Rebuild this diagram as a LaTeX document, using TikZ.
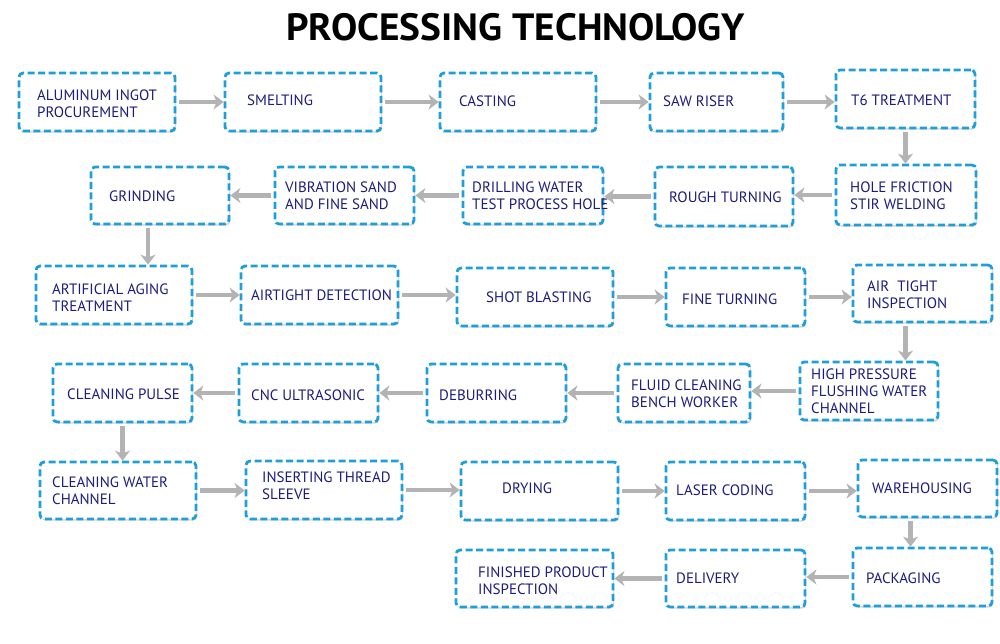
\documentclass[tikz,border=0pt]{standalone}
\usepackage{fontspec}
\setmainfont{PT Sans}
\usetikzlibrary{arrows.meta,shadows}
\definecolor{boxblue}{HTML}{1E9FDB}
\definecolor{txtnavy}{HTML}{1C1C7C}
\definecolor{arrgray}{HTML}{B3B3B3}
\tikzset{
  procbox/.style={draw=boxblue, line width=2.8pt, dash pattern=on 7pt off 3.5pt,
    rounded corners=4pt, fill=white, inner sep=0pt,
    drop shadow={shadow xshift=1.2pt, shadow yshift=-1.5pt, opacity=0.25, fill=black!60}},
  lbl/.style={anchor=west, inner sep=0pt, align=left, text=txtnavy,
    font=\fontsize{15}{17}\selectfont},
  arr/.style={draw=arrgray, line width=4.5pt,
    -{Stealth[length=10pt, width=15pt, inset=3pt]}},
  ttl/.style={inner sep=0pt, xscale=1.034, transform shape,
    font=\fontsize{38}{40}\selectfont\bfseries}
}
\newcommand{\pbox}[5]{%
  \node[procbox, minimum width={(#4-#2)*1pt}, minimum height={(#5-#3)*1pt}]
    (#1) at ({(#2+#4)/2},{(#3+#5)/2}) {};}
\begin{document}
\begin{tikzpicture}[x=1pt,y=-1pt]
\useasboundingbox[fill=white] (0,0) rectangle (1000,643);
\node[ttl] (title) at (515.5,27) {PROCESSING TECHNOLOGY};
% boxes
\pbox{b1}{19}{73}{175}{131}
\pbox{b2}{225}{73}{381}{131}
\pbox{b3}{440}{73}{596}{131}
\pbox{b4}{650}{73}{783}{131}
\pbox{b5}{836}{70}{975}{128}
\pbox{b6}{836}{165}{976}{225}
\pbox{b7}{655}{167}{793}{226}
\pbox{b8}{463}{167}{603}{224}
\pbox{b9}{275}{167}{414}{224}
\pbox{b10}{91}{167}{229}{224}
\pbox{b11}{36}{266}{192}{324}
\pbox{b12}{241}{266}{398}{324}
\pbox{b13}{457}{268}{613}{326}
\pbox{b14}{666}{268}{805}{326}
\pbox{b15}{853}{265}{992}{322}
\pbox{b16}{800}{362}{938}{420}
\pbox{b17}{618}{364}{750}{422}
\pbox{b18}{427}{364}{566}{422}
\pbox{b19}{239}{364}{378}{422}
\pbox{b20}{53}{364}{192}{422}
\pbox{b21}{40}{462}{196}{519}
\pbox{b22}{246}{461}{402}{519}
\pbox{b23}{461}{462}{618}{520}
\pbox{b24}{666}{462}{805}{520}
\pbox{b25}{858}{460}{997}{517}
\pbox{b26}{853}{548}{992}{606}
\pbox{b27}{666}{550}{805}{607}
\pbox{b28}{456}{550}{613}{607}
% labels
\node[lbl] (t1) at (37,104) {ALUMINUM INGOT\\PROCUREMENT};
\node[lbl] (t2) at (247,100) {SMELTING};
\node[lbl] (t3) at (459,101) {CASTING};
\node[lbl] (t4) at (663,101) {SAW RISER};
\node[lbl] (t5) at (851,100) {T6 TREATMENT};
\node[lbl] (t6) at (850,195.5) {HOLE FRICTION\\STIR WELDING};
\node[lbl] (t7) at (669,197) {ROUGH TURNING};
\node[lbl] (t8) at (472,195.5) {DRILLING WATER\\TEST PROCESS HOLE};
\node[lbl] (t9) at (285,195.5) {VIBRATION SAND\\AND FINE SAND};
\node[lbl] (t10) at (109,196) {GRINDING};
\node[lbl] (t11) at (52,297.5) {ARTIFICIAL AGING\\TREATMENT};
\node[lbl] (t12) at (251,295) {AIRTIGHT DETECTION};
\node[lbl] (t13) at (486,297) {SHOT BLASTING};
\node[lbl] (t14) at (682,299) {FINE TURNING};
\node[lbl] (t15) at (867,294.5) {AIR\ \ TIGHT\\INSPECTION};
\node[lbl] (t16) at (811,391.5) {HIGH PRESSURE\\FLUSHING WATER\\CHANNEL};
\node[lbl] (t17) at (631,393.5) {FLUID CLEANING\\BENCH WORKER};
\node[lbl] (t18) at (439,395) {DEBURRING};
\node[lbl] (t19) at (251,395) {CNC ULTRASONIC};
\node[lbl] (t20) at (67,394) {CLEANING PULSE};
\node[lbl] (t21) at (52,490.5) {CLEANING WATER\\CHANNEL};
\node[lbl] (t22) at (262,485.5) {INSERTING THREAD\\SLEEVE};
\node[lbl] (t23) at (502,488) {DRYING};
\node[lbl] (t24) at (676,490) {LASER CODING};
\node[lbl] (t25) at (872,488) {WAREHOUSING};
\node[lbl] (t26) at (866,578) {PACKAGING};
\node[lbl] (t27) at (676,578) {DELIVERY};
\node[lbl] (t28) at (478,580.5) {FINISHED PRODUCT\\INSPECTION};
% rightward arrows
\foreach \a/\b in {b1/b2,b2/b3,b3/b4,b4/b5,b11/b12,b12/b13,b13/b14,b14/b15,b21/b22,b22/b23,b23/b24,b24/b25}
  \draw[arr] ([xshift=3pt]\a.east) -- (\a.east -| \b.west);
% leftward arrows
\foreach \a/\b in {b6/b7,b7/b8,b8/b9,b9/b10,b16/b17,b17/b18,b18/b19,b19/b20,b26/b27,b27/b28}
  \draw[arr] ([xshift=-3pt]\a.west) -- (\a.west -| \b.east);
% downward arrows
\foreach \a/\b/\d in {b5/b6/0pt,b10/b11/-12pt,b15/b16/-17pt,b20/b21/0pt,b25/b26/-17pt}
  \draw[arr] ([shift={(\d,-3pt)}]\a.south) -- ([xshift=\d]\a.south |- \b.north);
\end{tikzpicture}
\end{document}
